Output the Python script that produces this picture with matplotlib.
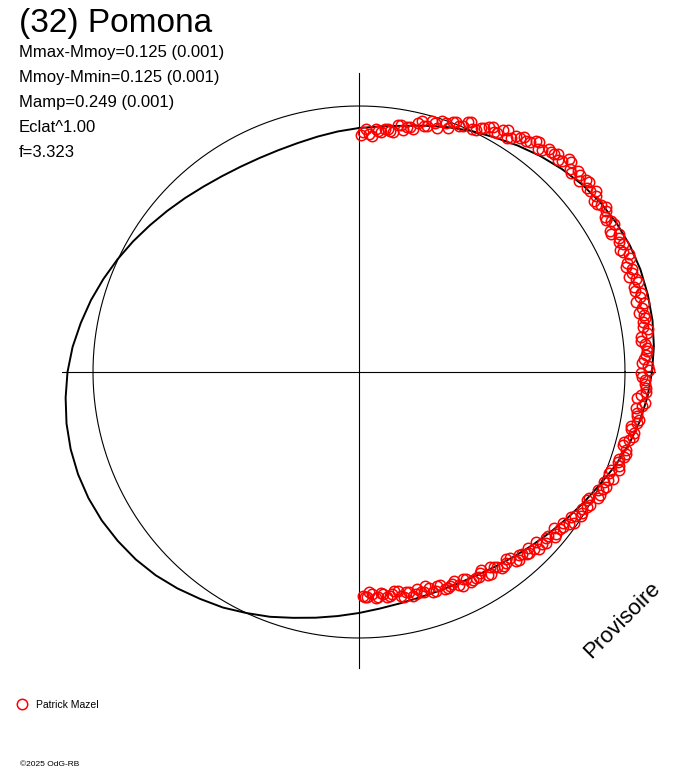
"""Polar light curve of (32) Pomona: observations vs. fitted curve."""

import numpy as np
import matplotlib

matplotlib.use("Agg")
import matplotlib.pyplot as plt

# ---- data (radius in chart units, reference circle = 266) ----
ref_radius = 266

# fitted curve, angle clockwise from top (degrees), one value every 5 deg
fit_angle_deg = list(range(0, 360, 5))
fit_radius = [
    244, 246.5, 250, 255, 260.5, 266, 271, 276.5, 282, 287, 291.5, 295,
    297.5, 299, 299.5, 299, 298, 296, 293, 289.5, 285, 279.5, 273, 266,
    260, 254.5, 249.5, 245, 241, 237.5, 235, 233.5, 233, 233.5, 235, 237.5,
    241, 245, 249.5, 254.5, 260.5, 266, 272, 277, 282.5, 287.5, 291.5, 294.5,
    297, 298.5, 299, 298.5, 297, 294.5, 291.5, 287.5, 282.5, 277.5, 272, 266.5,
    261, 255.5, 250.5, 246, 242, 239, 237, 236, 236, 237, 239, 241.5,
]

# observations (Patrick Mazel), session 1
obs1_angle_deg = [
    1.0, 2.3, 3.9, 5.2, 6.8, 8.1, 9.7, 11.0, 12.6, 14.1, 15.5, 17.0,
    18.4, 20.0, 21.3, 22.9, 24.2, 25.8, 27.1, 28.7, 30.0, 31.6, 33.0, 34.5,
    35.9, 37.4, 38.8, 40.3, 41.7, 43.2, 44.6, 46.1, 47.5, 49.0, 50.4, 51.9,
    53.3, 54.8, 56.2, 57.7, 59.1, 60.6, 62.0, 63.5, 64.9, 66.4, 67.8, 69.3,
    70.7, 72.2, 73.6, 75.1, 76.5, 78.0, 79.4, 80.9, 82.3, 83.8, 85.2, 86.7,
    88.1, 89.6, 91.0, 92.5, 93.9, 95.4, 96.8, 98.3, 99.7, 101.2, 102.6, 104.1,
    105.5, 107.0, 108.4, 109.9, 111.3, 112.8, 114.2, 115.7, 117.1, 118.6, 120.0, 121.5,
    122.9, 124.4, 125.8, 127.3, 128.7, 130.2, 131.6, 133.1, 134.5, 136.0, 137.4, 138.9,
    140.3, 141.8, 143.2, 144.7, 146.1, 147.6, 149.0, 150.5, 151.9, 153.4, 154.8, 156.3,
    157.7, 159.2, 160.6, 162.1, 163.5, 165.0, 166.4, 167.9, 169.3, 170.8, 172.2, 173.7,
    175.1, 176.6, 178.0, 179.0,
]
obs1_radius = [
    240.5, 238, 243.5, 240.5, 245, 242, 250.5, 249.5, 249, 258.5, 255, 260.5,
    264.5, 260, 268, 267, 274, 269, 274.5, 279, 276, 284, 278.5, 284.5,
    285, 291, 285.5, 293, 292.5, 291, 298.5, 293, 297, 291, 298, 293.5,
    295, 291, 297.5, 290.5, 294, 288, 294.5, 291, 288, 294.5, 289, 292,
    286, 293, 288, 291, 293.5, 286, 291, 287.5, 291, 283.5, 289, 287,
    283.5, 290, 283.5, 286, 287.5, 279.5, 285, 281, 284, 277.5, 281.5, 278.5,
    273.5, 279.5, 274.5, 276, 270, 276, 269, 270.5, 271, 262.5, 267, 262,
    264.5, 256.5, 259.5, 256, 250, 256, 249.5, 251, 252.5, 244, 247.5, 243,
    246, 237.5, 242.5, 239.5, 235.5, 240.5, 234.5, 237, 238, 231.5, 235.5, 231.5,
    233.5, 227.5, 232.5, 227, 229, 224.5, 230, 225, 227.5, 222, 226.5, 223,
    226, 222, 225.5, 224,
]

# observations (Patrick Mazel), session 2
obs2_angle_deg = [
    0.4, 1.7, 3.1, 4.5, 6.0, 7.4, 8.9, 10.3, 11.8, 13.3, 14.8, 16.2,
    17.7, 19.2, 20.6, 22.1, 23.5, 25.0, 26.5, 27.9, 29.4, 30.8, 32.3, 33.7,
    35.2, 36.6, 38.1, 39.5, 41.0, 42.4, 43.9, 45.3, 46.8, 48.2, 49.7, 51.1,
    52.6, 54.0, 55.5, 56.9, 58.4, 59.8, 61.3, 62.7, 64.2, 65.6, 67.1, 68.5,
    70.0, 71.4, 72.9, 74.3, 75.8, 77.2, 78.7, 80.1, 81.6, 83.0, 84.5, 85.9,
    87.4, 88.8, 90.3, 91.7, 93.2, 94.6, 96.1, 97.5, 99.0, 100.4, 101.9, 103.3,
    104.8, 106.2, 107.7, 109.1, 110.6, 112.0, 113.5, 114.9, 116.4, 117.8, 119.3, 120.7,
    122.2, 123.6, 125.1, 126.5, 128.0, 129.4, 130.9, 132.3, 133.8, 135.2, 136.7, 138.1,
    139.6, 141.0, 142.5, 143.9, 145.4, 146.8, 148.3, 149.7, 151.2, 152.6, 154.1, 155.5,
    157.0, 158.4, 159.9, 161.3, 162.8, 164.2, 165.7, 167.1, 168.6, 170.0, 171.5, 172.9,
    174.4, 175.8, 177.3, 178.6,
]
obs2_radius = [
    237, 243, 236, 242, 244, 243, 250, 245.5, 250.5, 255.5, 254, 261.5,
    256.5, 264, 267, 266, 273, 268, 273, 277, 275, 282, 277, 283.5,
    287, 286, 292.5, 287.5, 292, 295.5, 292.5, 298, 291, 296, 297, 293.5,
    298.5, 291, 294, 295, 290.5, 295, 287.5, 292.5, 293, 289.5, 294, 287,
    290, 292, 288, 293, 285.5, 290.5, 291, 288, 292, 284.5, 287.5, 289,
    285, 289.5, 282, 286, 287, 283, 287.5, 279.5, 281.5, 283, 278, 282,
    274, 278.5, 278, 274, 277.5, 269.5, 271.5, 272.5, 266.5, 270, 262, 265,
    264, 259.5, 262.5, 254, 255, 255.5, 250, 253.5, 245, 249, 248.5, 244,
    247.5, 239.5, 241, 242, 237, 241, 233, 237, 237.5, 233.5, 238, 230,
    232, 233, 228, 232, 224.5, 229, 229, 225.5, 229.5, 222, 224.5, 226.5,
    222, 227, 220, 225.5,
]

title = "(32) Pomona"
info_lines = [
    "Mmax-Mmoy=0.125 (0.001)",
    "Mmoy-Mmin=0.125 (0.001)",
    "Mamp=0.249 (0.001)",
    "Eclat^1.00",
    "f=3.323",
]
observer = "Patrick Mazel"
credit = "\u00a92025 OdG-RB"
stamp = "Provisoire"


def to_xy(angle_deg, radius):
    a = np.radians(np.asarray(angle_deg, dtype=float))
    r = np.asarray(radius, dtype=float)
    return r * np.sin(a), r * np.cos(a)


def main() -> None:
    plt.rcParams["font.family"] = ["Liberation Sans", "DejaVu Sans"]
    W, H = 688, 768
    cx, cy = 359, 372  # pixel position of the pole

    fig = plt.figure(figsize=(W / 100, H / 100), dpi=100)
    ax = fig.add_axes([0, 0, 1, 1])
    ax.set_xlim(-cx, W - cx)
    ax.set_ylim(cy - H, cy)
    ax.axis("off")

    # axes cross and reference circle
    ax.plot([0, 0], [-296, 299], color="black", lw=0.8)
    ax.plot([-297, 296], [0, 0], color="black", lw=0.8)
    t = np.linspace(0, 2 * np.pi, 400)
    ax.plot(ref_radius * np.cos(t), ref_radius * np.sin(t), color="black", lw=0.8)

    # fitted curve (closed)
    fx, fy = to_xy(fit_angle_deg + [360], fit_radius + [fit_radius[0]])
    ax.plot(fx, fy, color="black", lw=1.4, solid_joinstyle="round")

    # observations
    marker_style = dict(ls="none", marker="o", ms=7.5, mfc="none", mec="red", mew=1.1)
    ox, oy = to_xy(obs1_angle_deg, obs1_radius)
    (obs_line,) = ax.plot(ox, oy, label=observer, **marker_style)
    ox, oy = to_xy(obs2_angle_deg, obs2_radius)
    ax.plot(ox, oy, **marker_style)

    # texts
    def fx_(x):
        return x / W

    def fy_(y):
        return 1 - y / H

    fig.text(fx_(19), fy_(32), title, fontsize=24, va="baseline", ha="left")
    for i, line in enumerate(info_lines):
        fig.text(fx_(19), fy_(57 + 25 * i), line, fontsize=12, va="baseline", ha="left")

    ax.legend(handles=[obs_line], loc="center left",
              bbox_to_anchor=(fx_(17), fy_(705)), bbox_transform=fig.transFigure,
              frameon=False, borderpad=0, borderaxespad=0, handlelength=1.0,
              handletextpad=0.8, fontsize=7.5)

    fig.text(fx_(20), fy_(766), credit, fontsize=6, va="baseline", ha="left")
    fig.text(fx_(622), fy_(620), stamp, fontsize=16, rotation=45,
             rotation_mode="anchor", ha="center", va="center")

    fig.savefig("out.png", dpi=100)


if __name__ == "__main__":
    main()
